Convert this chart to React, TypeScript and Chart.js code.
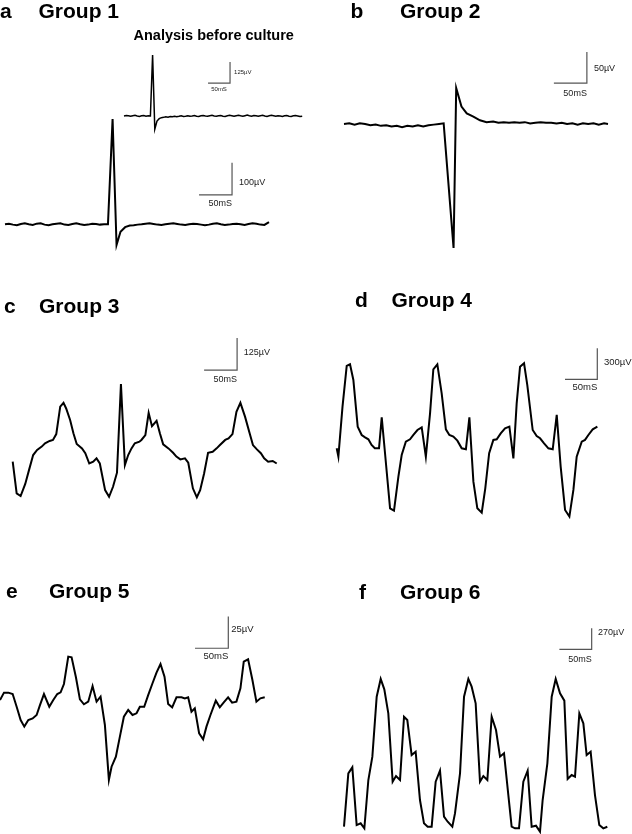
import React, { useEffect, useRef } from "react";
import { Chart, registerables } from "chart.js";

Chart.register(...registerables);

type Pt = [number, number]; // [time ms, amplitude µV]

// ---------- DATA (time in ms, amplitude in µV) ----------
const group1BeforeCulture: Pt[] = [
  [0, 0], [5, 3], [10, 1], [15, -2], [20, 2], [25, 4], [30, 0], [35, -3], [40, 1], [45, 3], [50, -1], [55, 2],
  [60, 0], [65, 363], [70, -78], [75, -30], [80, -16], [85, -10], [90, -8], [95, -4], [100, -7], [105, -3],
  [110, -5], [115, -1], [120, -4], [125, -2], [130, 1], [135, -3], [140, -1], [145, 2], [150, -2], [155, 0],
  [160, 3], [165, -1], [170, -3], [175, 1], [180, 3], [185, 0], [190, -2], [195, 2], [200, 4], [205, 0],
  [210, -2], [215, 1], [220, 3], [225, -1], [230, -3], [235, 1], [240, 4], [245, 1], [250, -2], [255, 2],
  [260, 5], [265, 1], [270, -2], [275, 2], [280, 6], [285, 2], [290, -1], [295, 3], [300, 1], [305, -2],
  [310, 2], [315, 4], [320, 0], [325, -3], [330, 1], [335, 4], [340, 1], [345, -2], [350, 2], [355, 0],
  [360, -3], [365, 1], [370, 3], [375, -1], [380, -3], [385, 1], [390, 3], [395, 0], [400, -3], [405, -1],
];

const group1Trace: Pt[] = [
  [0, 0], [6, 2], [12, -1], [18, -3], [24, 1], [30, 3], [36, 0], [42, -2], [48, 2], [54, 3], [60, -1], [66, -3],
  [72, 0], [78, 2], [84, 3], [90, -1], [96, -2], [102, 1], [108, 3], [114, 0], [120, -2], [126, -1], [132, 2],
  [138, 1], [144, -1], [150, 0], [156, 0], [163, 329], [169, -65], [175, -23], [182, -9], [189, -4], [195, -3],
  [201, -1], [207, 0], [213, 2], [219, 3], [225, 1], [231, -1], [237, -2], [243, 0], [249, 2], [255, 3],
  [261, 1], [267, -1], [273, -2], [279, 0], [285, 2], [291, 1], [297, -1], [303, -3], [309, -1], [315, 2],
  [321, 3], [327, 0], [333, -2], [339, -1], [345, 1], [351, 2], [357, 0], [363, -2], [369, 1], [375, 3],
  [381, 2], [387, -1], [393, -2], [400, 7],
];

const group2Trace: Pt[] = [
  [0, 0], [8, 1], [16, -1], [24, 1], [32, 0], [40, -2], [48, -1], [56, -3], [64, -2], [72, -4], [80, -3],
  [88, -5], [96, -3], [104, -4], [112, -2], [120, -4], [128, -2], [136, -1], [144, 0], [151, 1], [166, -200],
  [170, 58], [178, 28], [186, 17], [196, 12], [206, 6], [216, 3], [226, 4], [234, 2], [242, 3], [250, 2],
  [258, 3], [266, 2], [274, 3], [282, 1], [290, 2], [298, 3], [306, 2], [314, 2], [322, 1], [330, 2],
  [338, 0], [346, 1], [354, -1], [362, 1], [370, 0], [378, 1], [386, -1], [394, 1], [400, 0],
];

const group3Trace: Pt[] = [
  [0, 0], [6, -124], [12, -134], [19, -87], [25, -30], [31, 26], [37, 46], [44, 59], [49, 72], [56, 81],
  [61, 85], [66, 108], [72, 215], [77, 230], [81, 208], [87, 163], [92, 111], [97, 69], [105, 52], [110, 33],
  [116, -7], [122, 0], [127, 13], [132, -7], [140, -111], [146, -137], [152, -98], [158, -43], [164, 303],
  [170, -13], [175, 26], [180, 52], [185, 72], [192, 78], [195, 85], [201, 104], [206, 191], [211, 139],
  [218, 160], [223, 111], [228, 68], [236, 52], [243, 35], [248, 20], [254, 9], [261, 13], [266, -4],
  [273, -104], [279, -139], [284, -111], [290, -46], [296, 35], [303, 39], [309, 52], [314, 65], [322, 85],
  [327, 91], [333, 108], [339, 195], [345, 230], [352, 176], [359, 111], [364, 65], [370, 48], [376, 33],
  [381, 13], [387, 0], [394, 3], [400, -7],
];

const group4Trace: Pt[] = [
  [0, 0], [2.6, -81], [9, 403], [15.5, 797], [20.6, 813], [25.8, 661], [32.5, 210], [38.7, 129], [43.9, 106],
  [49, 87], [54, 32], [59, 0], [65.5, 0], [69.7, 300], [74.8, -48], [82.6, -581], [88.7, -603], [95.5, -274],
  [100.6, -65], [107, 65], [113.5, 87], [118.7, 129], [125, 177], [131.6, 203], [138, -81], [144.5, 339],
  [149.6, 765], [155.8, 813], [162.5, 532], [169, 184], [174.4, 129], [180.6, 113], [186.8, 74], [193.5, 0],
  [200, -10], [205.4, 300], [211.6, -323], [217.7, -581], [224.5, -623], [230, -387], [236, -48], [242.5, 81],
  [247.7, 87], [253.9, 145], [260.6, 194], [267.3, 210], [273.5, -97], [278.6, 435], [283.8, 790], [290, 823],
  [295, 613], [303.4, 177], [309.6, 119], [314.8, 97], [321, 48], [327.7, 0], [334.4, -10], [340.6, 323],
  [346.7, -177], [353.5, -597], [360.2, -661], [366.4, -403], [371.5, -81], [379.3, 65], [384.4, 81],
  [389.6, 129], [396.3, 184], [403.5, 210],
];

const group5Trace: Pt[] = [
  [0, 0], [6, 5.8], [12.5, 5.8], [19, 4.7], [25, -5.3], [31, -15.8], [36.5, -21], [42.5, -15.8], [49, -14.5],
  [55, -11.8], [60, -4], [66, 4.7], [74, -5.3], [80, 0], [86, 4.7], [91, 6], [96, 12.6], [102.5, 34.2],
  [107.5, 33.7], [114, 17.9], [120, 0.5], [126, -3.4], [132.5, -1.3], [139, 11], [145, -1.3], [151, 2.6],
  [157.5, -19.7], [163.5, -63], [167.5, -52.6], [174, -44.7], [180, -28.9], [186, -13.2], [192.5, -7.9],
  [199, -11.8], [205, -10.5], [210, -5.3], [216.5, -5.3], [222.5, 3.9], [229, 13.2], [235, 21.6], [241, 28.4],
  [247, 18.4], [252.5, -3.2], [258.5, -5.8], [265, 2.1], [272.5, 2.1], [277.5, 1.3], [282.5, 2.1], [287.5, -9.2],
  [292.5, -6.6], [299, -26.3], [305, -31], [310, -21], [316, -11.8], [324, -0.5], [330, -5.8], [336, -1.8],
  [342.5, 2.1], [348.5, -2.1], [355, -1.3], [361, 9.2], [366, 30.2], [372.5, 32.1], [379, 15.8], [385, -1.3],
  [391, 1.3], [397.5, 2.1],
];

const group6Trace: Pt[] = [
  [0, 0], [6.7, 686], [12.9, 763], [19.6, 21], [25.8, 43], [31.5, -21], [37.7, 600], [43.9, 900], [50.6, 1671],
  [56.8, 1899], [62.4, 1766], [68.6, 1457], [75.3, 579], [80.5, 651], [86.7, 600], [92.9, 1414], [98, 1371],
  [104.7, 921], [110.9, 964], [117.6, 343], [123.8, 43], [129.5, 0], [135.7, 0], [141.9, 579], [148.6, 720],
  [154.8, 129], [160.5, 64], [167.7, 0], [171.8, 171], [179.6, 686], [185.8, 1671], [192.5, 1899], [197.6, 1800],
  [203.8, 1586], [210.5, 579], [215.7, 651], [221.9, 600], [228.6, 1414], [235.3, 1243], [241.5, 900],
  [247.7, 943], [254.4, 407], [259.5, 0], [264.7, -21], [270.9, -21], [277.6, 579], [284.3, 720], [290.5, 0],
  [297.2, 13], [303.4, -64], [307.5, 343], [314.8, 814], [321.5, 1671], [327.7, 1899], [334.4, 1714],
  [341.1, 1620], [346.2, 613], [352.4, 664], [357.6, 643], [364.3, 1457], [370.5, 1329], [375.6, 921],
  [381.8, 964], [388.5, 407], [395.2, 21], [401.4, -21], [407.6, 0],
];

// scale bar sizes
const barTimeMs = 50;
const barAmplitudes = [125, 100, 50, 125, 300, 25, 270];
const panelLetters = ["a", "b", "c", "d", "e", "f"];
const panelTitles = ["Group 1", "Group 2", "Group 3", "Group 4", "Group 5", "Group 6"];
const insetTitle = "Analysis before culture";

// ---------- LAYOUT ----------
type Bar = {
  t: number; v: number; uv: number; font: number;
  vGap: number; vDy: number; hDy: number; hAlign: CanvasTextAlign;
};
type Trace = {
  points: Pt[]; ox: number; oy: number; pxPerMs: number; pxPerUV: number; lw: number; bar: Bar;
};
type TextSpec = { text: string; x: number; y: number; size: number };
type Panel = { left: number; top: number; width: number; height: number; texts: TextSpec[]; traces: Trace[] };

const FONT = "'Liberation Sans', Arial, Helvetica, sans-serif";

const panels: Panel[] = [
  {
    left: 0, top: 0, width: 316, height: 290,
    texts: [
      { text: panelLetters[0], x: 0, y: 18, size: 21 },
      { text: panelTitles[0], x: 38.5, y: 18, size: 21 },
      { text: insetTitle, x: 133.5, y: 39.6, size: 14.5 },
    ],
    traces: [
      {
        points: group1BeforeCulture, ox: 124, oy: 116, pxPerMs: 0.44, pxPerUV: 0.168, lw: 1.5,
        bar: { t: 241, v: 196, uv: barAmplitudes[0], font: 6, vGap: 4, vDy: 0, hDy: 6, hAlign: "center" },
      },
      {
        points: group1Trace, ox: 5, oy: 224.3, pxPerMs: 0.66, pxPerUV: 0.32, lw: 2,
        bar: { t: 344, v: 92, uv: barAmplitudes[1], font: 9, vGap: 7, vDy: 4, hDy: 9, hAlign: "right" },
      },
    ],
  },
  {
    left: 316, top: 0, width: 316, height: 290,
    texts: [
      { text: panelLetters[1], x: 350.5, y: 18, size: 21 },
      { text: panelTitles[1], x: 400, y: 18, size: 21 },
    ],
    traces: [
      {
        points: group2Trace, ox: 344, oy: 124, pxPerMs: 0.66, pxPerUV: 0.62, lw: 2,
        bar: { t: 368, v: 66, uv: barAmplitudes[2], font: 9, vGap: 7, vDy: 0.5, hDy: 10, hAlign: "right" },
      },
    ],
  },
  {
    left: 0, top: 290, width: 316, height: 285,
    texts: [
      { text: panelLetters[2], x: 4, y: 313.3, size: 21 },
      { text: panelTitles[2], x: 39, y: 313.3, size: 21 },
    ],
    traces: [
      {
        points: group3Trace, ox: 12.7, oy: 461.7, pxPerMs: 0.66, pxPerUV: 0.256, lw: 2,
        bar: { t: 340, v: 358, uv: barAmplitudes[3], font: 9, vGap: 6.7, vDy: -1.3, hDy: 9, hAlign: "right" },
      },
    ],
  },
  {
    left: 316, top: 280, width: 316, height: 295,
    texts: [
      { text: panelLetters[3], x: 355, y: 306.7, size: 21 },
      { text: panelTitles[3], x: 391.5, y: 306.7, size: 21 },
    ],
    traces: [
      {
        points: group4Trace, ox: 336.7, oy: 448.3, pxPerMs: 0.646, pxPerUV: 0.1033, lw: 2,
        bar: { t: 403.4, v: 668, uv: barAmplitudes[4], font: 9.5, vGap: 6.7, vDy: -1, hDy: 8, hAlign: "right" },
      },
    ],
  },
  {
    left: 0, top: 575, width: 316, height: 259,
    texts: [
      { text: panelLetters[4], x: 6, y: 598.3, size: 21 },
      { text: panelTitles[4], x: 49, y: 598.3, size: 21 },
    ],
    traces: [
      {
        points: group5Trace, ox: 0, oy: 700, pxPerMs: 0.666, pxPerUV: 1.268, lw: 2,
        bar: { t: 342.8, v: 40.8, uv: barAmplitudes[5], font: 9.5, vGap: 3, vDy: -3, hDy: 8, hAlign: "right" },
      },
    ],
  },
  {
    left: 316, top: 575, width: 316, height: 259,
    texts: [
      { text: panelLetters[5], x: 359, y: 599, size: 21 },
      { text: panelTitles[5], x: 400, y: 599, size: 21 },
    ],
    traces: [
      {
        points: group6Trace, ox: 344, oy: 826.7, pxPerMs: 0.646, pxPerUV: 0.0778, lw: 2,
        bar: { t: 383.4, v: 2280, uv: barAmplitudes[6], font: 9, vGap: 6.3, vDy: -6, hDy: 10, hAlign: "right" },
      },
    ],
  },
];

function makeOverlay(panel: Panel) {
  return {
    id: "overlay",
    afterDatasetsDraw(chart: any) {
      const ctx: CanvasRenderingContext2D = chart.ctx;
      ctx.save();
      ctx.fillStyle = "#000";
      ctx.textAlign = "left";
      ctx.textBaseline = "alphabetic";
      for (const t of panel.texts) {
        ctx.font = `bold ${t.size}px ${FONT}`;
        ctx.fillText(t.text, t.x - panel.left, t.y - panel.top);
      }
      panel.traces.forEach((tr, i) => {
        const xs = chart.scales["x" + i];
        const ys = chart.scales["y" + i];
        const b = tr.bar;
        const cx = xs.getPixelForValue(b.t);
        const lx = xs.getPixelForValue(b.t - barTimeMs);
        const cy = ys.getPixelForValue(b.v);
        const ty = ys.getPixelForValue(b.v + b.uv);
        ctx.font = `${b.font}px ${FONT}`;
        ctx.fillStyle = "#222";
        ctx.textBaseline = "middle";
        ctx.textAlign = "left";
        ctx.fillText(`${b.uv}\u00b5V`, cx + b.vGap, (cy + ty) / 2 + b.vDy);
        ctx.textAlign = b.hAlign;
        ctx.fillText(`${barTimeMs}mS`, b.hAlign === "center" ? (cx + lx) / 2 : cx, cy + b.hDy);
      });
      ctx.restore();
    },
  };
}

function PanelChart({ panel }: { panel: Panel }) {
  const ref = useRef<HTMLCanvasElement | null>(null);
  useEffect(() => {
    if (!ref.current) return;
    const datasets: any[] = [];
    const scales: any = {};
    panel.traces.forEach((tr, i) => {
      const xID = "x" + i;
      const yID = "y" + i;
      scales[xID] = {
        type: "linear", axis: "x", display: false,
        min: (panel.left - tr.ox) / tr.pxPerMs,
        max: (panel.left + panel.width - tr.ox) / tr.pxPerMs,
      };
      scales[yID] = {
        type: "linear", axis: "y", display: false,
        min: (tr.oy - (panel.top + panel.height)) / tr.pxPerUV,
        max: (tr.oy - panel.top) / tr.pxPerUV,
      };
      datasets.push({
        data: tr.points.map(([x, y]) => ({ x, y })),
        xAxisID: xID, yAxisID: yID,
        borderColor: "#000", borderWidth: tr.lw, showLine: true, pointRadius: 0,
        tension: 0, clip: false, borderJoinStyle: "miter", fill: false,
      });
      const b = tr.bar;
      datasets.push({
        data: [
          { x: b.t - barTimeMs, y: b.v },
          { x: b.t, y: b.v },
          { x: b.t, y: b.v + b.uv },
        ],
        xAxisID: xID, yAxisID: yID,
        borderColor: "#555", borderWidth: 1.2, showLine: true, pointRadius: 0,
        tension: 0, clip: false, borderJoinStyle: "miter", fill: false,
      });
    });
    const chart = new Chart(ref.current, {
      type: "scatter",
      data: { datasets },
      options: {
        animation: false,
        responsive: false,
        maintainAspectRatio: false,
        devicePixelRatio: 1,
        layout: { padding: 0 },
        scales,
        plugins: { legend: { display: false }, title: { display: false }, tooltip: { enabled: false } },
        events: [],
      } as any,
      plugins: [makeOverlay(panel)],
    });
    return () => chart.destroy();
  }, [panel]);
  return (
    <canvas
      ref={ref}
      width={panel.width}
      height={panel.height}
      style={{ position: "absolute", left: panel.left, top: panel.top, width: panel.width, height: panel.height }}
    />
  );
}

export default function App() {
  return (
    <div style={{ position: "absolute", left: 0, top: 0, width: 632, height: 834, background: "#fff", overflow: "hidden" }}>
      {panels.map((p, i) => (
        <PanelChart key={i} panel={p} />
      ))}
    </div>
  );
}
